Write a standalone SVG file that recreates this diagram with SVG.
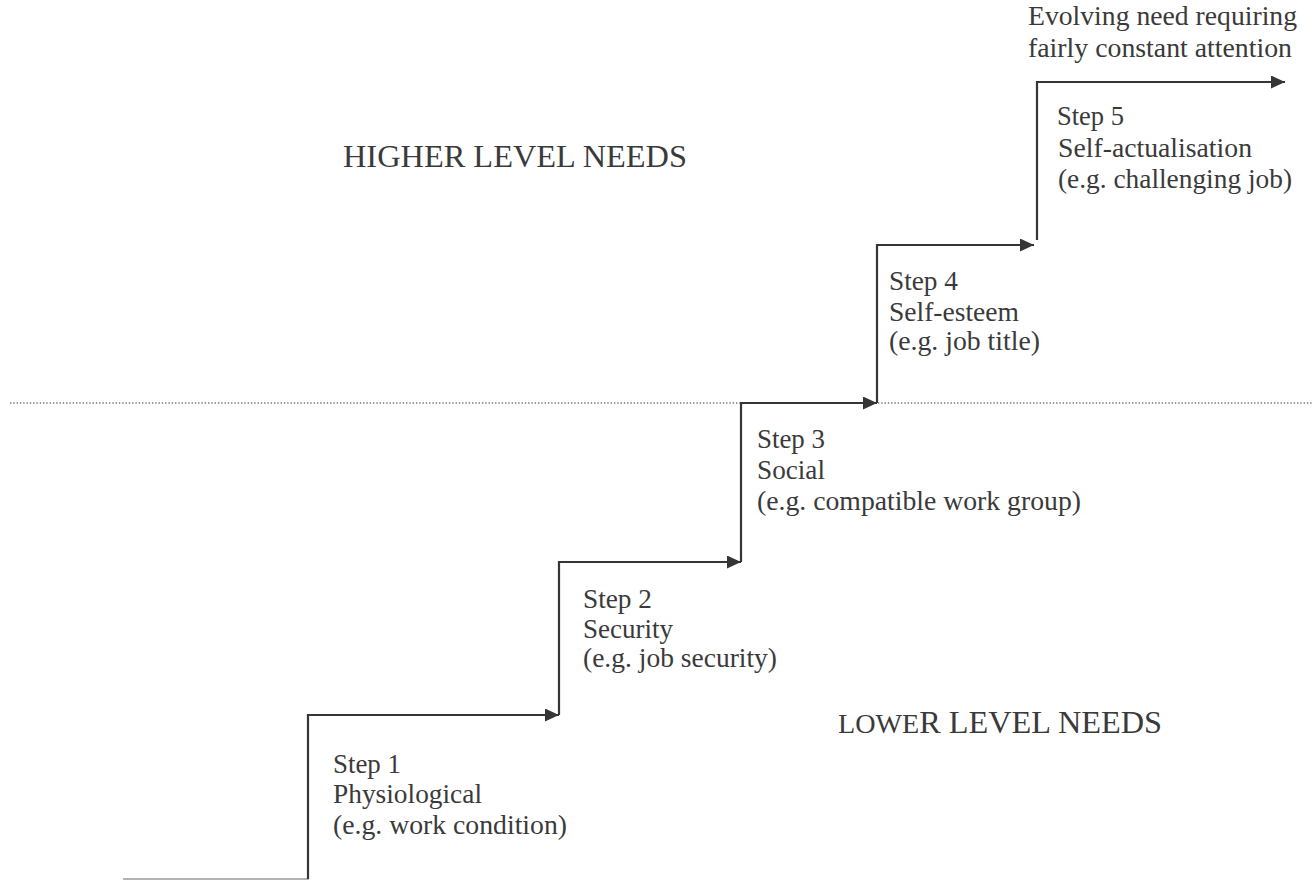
<svg xmlns="http://www.w3.org/2000/svg" width="1312" height="882" viewBox="0 0 1312 882">
<style>
  text { font-family: "Liberation Serif", "Times New Roman", serif; fill: #3a3a3a; }
  .lbl { font-size: 26.5px; }
  .big { font-size: 31px; }
  .conn { stroke: #353535; stroke-width: 2.2; fill: none; }
  .arrow { marker-end: url(#ah); }
  .dots { stroke: #777; stroke-width: 1.6; stroke-dasharray: 1.4 1.9; fill: none; }
  .base { stroke: #9a9a9a; stroke-width: 1.5; fill: none; }
</style>
<defs>
  <marker id="ah" markerUnits="userSpaceOnUse" markerWidth="15" markerHeight="14" refX="14" refY="6.5" orient="auto">
    <path d="M0,0 L14,6.5 L0,13 Z" fill="#353535"/>
  </marker>
</defs>
<rect width="1312" height="882" fill="#ffffff"/>

<g id="divider">
  <line class="dots" x1="10" y1="403" x2="1312" y2="403"/>
</g>

<g id="connectors">
  <line class="base" x1="123" y1="879" x2="309" y2="879"/>
  <path class="conn arrow" d="M308,879 L308,715 L559,715"/>
  <path class="conn arrow" d="M559,715 L559,562 L741,562"/>
  <path class="conn arrow" d="M741,562 L741,403 L877,403"/>
  <path class="conn arrow" d="M877,403 L877,245 L1034,245"/>
  <path class="conn arrow" d="M1037,240 L1037,82 L1285,82"/>
</g>

<g id="higher-level">
  <text class="big" x="343" y="167" textLength="344" lengthAdjust="spacingAndGlyphs">HIGHER LEVEL NEEDS</text>
</g>
<g id="lower-level">
  <text class="big" x="838" y="733" textLength="324" lengthAdjust="spacingAndGlyphs"><tspan font-size="27">LOWE</tspan>R LEVEL NEEDS</text>
</g>

<g id="step1">
  <text class="lbl" x="333" y="773" textLength="68" lengthAdjust="spacingAndGlyphs">Step 1</text>
  <text class="lbl" x="333" y="803" textLength="149" lengthAdjust="spacingAndGlyphs">Physiological</text>
  <text class="lbl" x="333" y="834" textLength="234" lengthAdjust="spacingAndGlyphs">(e.g. work condition)</text>
</g>
<g id="step2">
  <text class="lbl" x="583" y="608" textLength="69" lengthAdjust="spacingAndGlyphs">Step 2</text>
  <text class="lbl" x="583" y="638" textLength="90" lengthAdjust="spacingAndGlyphs">Security</text>
  <text class="lbl" x="583" y="667" textLength="194" lengthAdjust="spacingAndGlyphs">(e.g. job security)</text>
</g>
<g id="step3">
  <text class="lbl" x="757" y="448" textLength="68" lengthAdjust="spacingAndGlyphs">Step 3</text>
  <text class="lbl" x="757" y="479" textLength="68" lengthAdjust="spacingAndGlyphs">Social</text>
  <text class="lbl" x="757" y="510" textLength="324" lengthAdjust="spacingAndGlyphs">(e.g. compatible work group)</text>
</g>
<g id="step4">
  <text class="lbl" x="889" y="290" textLength="69" lengthAdjust="spacingAndGlyphs">Step 4</text>
  <text class="lbl" x="889" y="321" textLength="130" lengthAdjust="spacingAndGlyphs">Self-esteem</text>
  <text class="lbl" x="889" y="350" textLength="151" lengthAdjust="spacingAndGlyphs">(e.g. job title)</text>
</g>
<g id="step5">
  <text class="lbl" x="1057" y="125" textLength="67" lengthAdjust="spacingAndGlyphs">Step 5</text>
  <text class="lbl" x="1058" y="157" textLength="194" lengthAdjust="spacingAndGlyphs">Self-actualisation</text>
  <text class="lbl" x="1058" y="188" textLength="234" lengthAdjust="spacingAndGlyphs">(e.g. challenging job)</text>
</g>
<g id="evolving">
  <text class="lbl" x="1028" y="25" textLength="269" lengthAdjust="spacingAndGlyphs">Evolving need requiring</text>
  <text class="lbl" x="1028" y="57" textLength="264" lengthAdjust="spacingAndGlyphs">fairly constant attention</text>
</g>
</svg>
